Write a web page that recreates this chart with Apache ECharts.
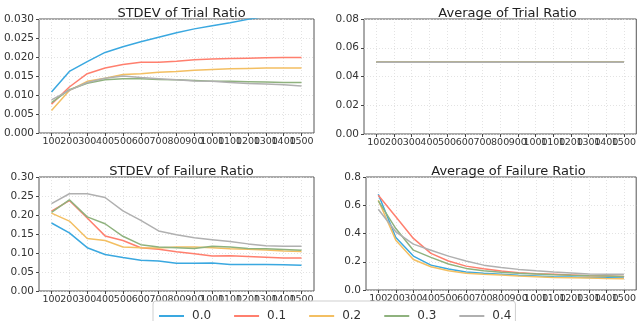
<!DOCTYPE html>
<html>
<head>
<meta charset="utf-8">
<script src="https://cdn.jsdelivr.net/npm/echarts@6/dist/echarts.min.js"></script>
<style>
  html, body { margin: 0; padding: 0; background: #fff; }
  #main { width: 639px; height: 321px; }
</style>
</head>
<body>
<div id="main"></div>
<script>
const sampleSizes = [100, 200, 300, 400, 500, 600, 700, 800, 900, 1000, 1100, 1200, 1300, 1400, 1500];
const groups = ['0.0', '0.1', '0.2', '0.3', '0.4'];
const lineColors = ['#3aa8e0', '#ff7f6e', '#f3bf62', '#8fb27e', '#b0b0b0'];

// STDEV of Trial Ratio
const stdevTrial00 = [0.0108, 0.0162, 0.0188, 0.0212, 0.0227, 0.0240, 0.0252, 0.0264, 0.0274, 0.0282, 0.0290, 0.0299, 0.0307, 0.0314, 0.0320];
const stdevTrial01 = [0.0076, 0.0121, 0.0156, 0.0171, 0.0180, 0.0186, 0.0186, 0.0189, 0.0193, 0.0195, 0.0196, 0.0197, 0.0198, 0.0199, 0.0199];
const stdevTrial02 = [0.0059, 0.0112, 0.0136, 0.0144, 0.0154, 0.0156, 0.0160, 0.0162, 0.0165, 0.0167, 0.0169, 0.0170, 0.0171, 0.0171, 0.0171];
const stdevTrial03 = [0.0080, 0.0114, 0.0131, 0.0140, 0.0143, 0.0143, 0.0141, 0.0140, 0.0138, 0.0136, 0.0136, 0.0135, 0.0134, 0.0133, 0.0133];
const stdevTrial04 = [0.0087, 0.0112, 0.0133, 0.0144, 0.0150, 0.0146, 0.0143, 0.0140, 0.0137, 0.0136, 0.0133, 0.0130, 0.0129, 0.0127, 0.0124];

// Average of Trial Ratio
const avgTrial00 = [0.05, 0.05, 0.05, 0.05, 0.05, 0.05, 0.05, 0.05, 0.05, 0.05, 0.05, 0.05, 0.05, 0.05, 0.05];
const avgTrial01 = [0.05, 0.05, 0.05, 0.05, 0.05, 0.05, 0.05, 0.05, 0.05, 0.05, 0.05, 0.05, 0.05, 0.05, 0.05];
const avgTrial02 = [0.05, 0.05, 0.05, 0.05, 0.05, 0.05, 0.05, 0.05, 0.05, 0.05, 0.05, 0.05, 0.05, 0.05, 0.05];
const avgTrial03 = [0.05, 0.05, 0.05, 0.05, 0.05, 0.05, 0.05, 0.05, 0.05, 0.05, 0.05, 0.05, 0.05, 0.05, 0.05];
const avgTrial04 = [0.05, 0.05, 0.05, 0.05, 0.05, 0.05, 0.05, 0.05, 0.05, 0.05, 0.05, 0.05, 0.05, 0.05, 0.05];

// STDEV of Failure Ratio
const stdevFail00 = [0.179, 0.153, 0.114, 0.096, 0.088, 0.081, 0.079, 0.073, 0.073, 0.074, 0.070, 0.070, 0.070, 0.069, 0.068];
const stdevFail01 = [0.210, 0.238, 0.192, 0.145, 0.133, 0.114, 0.110, 0.103, 0.098, 0.092, 0.093, 0.091, 0.089, 0.087, 0.087];
const stdevFail02 = [0.205, 0.184, 0.138, 0.133, 0.116, 0.114, 0.113, 0.116, 0.116, 0.114, 0.111, 0.110, 0.108, 0.105, 0.104];
const stdevFail03 = [0.207, 0.240, 0.195, 0.177, 0.144, 0.122, 0.116, 0.114, 0.112, 0.118, 0.116, 0.112, 0.111, 0.109, 0.107];
const stdevFail04 = [0.230, 0.256, 0.256, 0.246, 0.211, 0.186, 0.158, 0.148, 0.140, 0.135, 0.130, 0.124, 0.119, 0.118, 0.118];

// Average of Failure Ratio
const avgFail00 = [0.678, 0.372, 0.240, 0.176, 0.148, 0.127, 0.118, 0.111, 0.104, 0.099, 0.094, 0.092, 0.089, 0.087, 0.085];
const avgFail01 = [0.671, 0.518, 0.365, 0.259, 0.205, 0.169, 0.151, 0.134, 0.122, 0.115, 0.111, 0.106, 0.101, 0.099, 0.096];
const avgFail02 = [0.635, 0.353, 0.216, 0.165, 0.136, 0.118, 0.111, 0.106, 0.099, 0.094, 0.089, 0.087, 0.085, 0.082, 0.080];
const avgFail03 = [0.631, 0.435, 0.282, 0.231, 0.184, 0.153, 0.136, 0.125, 0.118, 0.113, 0.108, 0.104, 0.101, 0.099, 0.096];
const avgFail04 = [0.572, 0.412, 0.325, 0.282, 0.240, 0.205, 0.176, 0.160, 0.146, 0.136, 0.127, 0.120, 0.113, 0.111, 0.111];

const panels = [
  {title: 'STDEV of Trial Ratio', grid: {left: 39, top: 19, width: 275, height: 114}, max: 0.03, step: 0.005, digits: 3,
   data: [stdevTrial00, stdevTrial01, stdevTrial02, stdevTrial03, stdevTrial04]},
  {title: 'Average of Trial Ratio', grid: {left: 364, top: 19, width: 277, height: 115}, max: 0.08, step: 0.02, digits: 2,
   data: [avgTrial00, avgTrial01, avgTrial02, avgTrial03, avgTrial04]},
  {title: 'STDEV of Failure Ratio', grid: {left: 39, top: 177, width: 275, height: 114}, max: 0.3, step: 0.05, digits: 2,
   data: [stdevFail00, stdevFail01, stdevFail02, stdevFail03, stdevFail04]},
  {title: 'Average of Failure Ratio', grid: {left: 366, top: 177, width: 275, height: 113}, max: 0.8, step: 0.2, digits: 1,
   data: [avgFail00, avgFail01, avgFail02, avgFail03, avgFail04]}
];

const font = 'DejaVu Sans';
const dotted = {lineStyle: {color: '#dcdcdc', type: [1, 2], width: 0.8}};
// labels overlap like in the source plot, so split them over two stacked axes
const evenLabels = sampleSizes.filter((v, j) => j % 2 === 0);
const oddLabels = sampleSizes.filter((v, j) => j % 2 === 1);

const myChart = echarts.init(document.getElementById('main'), null, {renderer: 'canvas'});

const xLabel = vals => ({
  customValues: vals, showMinLabel: true, showMaxLabel: true, hideOverlap: false,
  fontFamily: font, fontSize: 9.5, color: '#333', margin: 4,
  formatter: v => String(v)
});

const xAxes = [];
panels.forEach((p, i) => {
  xAxes.push({
    type: 'value', gridIndex: i, min: 30, max: 1570, position: 'bottom',
    axisLine: {show: false},
    axisTick: {show: true, customValues: sampleSizes, length: 3, lineStyle: {color: '#444'}},
    axisLabel: xLabel(evenLabels),
    splitLine: Object.assign({show: true}, dotted)
  });
  xAxes.push({
    type: 'value', gridIndex: i, min: 30, max: 1570, position: 'bottom', offset: 0,
    axisLine: {show: false},
    axisTick: {show: false},
    axisLabel: xLabel(oddLabels),
    splitLine: {show: false}
  });
});

const option = {
  animation: false,
  backgroundColor: '#fff',
  title: panels.map(p => ({
    text: p.title,
    left: p.grid.left + p.grid.width / 2,
    top: p.grid.top - 17,
    textAlign: 'center',
    textStyle: {fontFamily: font, fontSize: 13, fontWeight: 'normal', color: '#222'}
  })),
  grid: panels.map(p => Object.assign({show: true, borderColor: '#555', borderWidth: 1, backgroundColor: 'transparent'}, p.grid)),
  xAxis: xAxes,
  yAxis: panels.map((p, i) => ({
    type: 'value', gridIndex: i, min: 0, max: p.max, interval: p.step,
    axisLine: {show: false},
    axisTick: {show: true, length: 3, lineStyle: {color: '#444'}},
    axisLabel: {fontFamily: font, fontSize: 10.5, color: '#333', margin: 5,
      formatter: v => v.toFixed(p.digits)},
    splitLine: Object.assign({show: true}, dotted)
  })),
  legend: {
    data: groups,
    left: 153, top: 301,
    orient: 'horizontal',
    icon: 'rect',
    borderColor: '#cfcfcf', borderWidth: 1, borderRadius: 3,
    backgroundColor: 'rgba(255,255,255,0.8)',
    padding: [9, 4, 9, 6],
    itemWidth: 25, itemHeight: 2, itemGap: 23,
    textStyle: {fontFamily: font, fontSize: 12, color: '#333', padding: [0, 0, 0, 3]}
  },
  series: []
};

panels.forEach((p, i) => {
  p.data.forEach((vals, k) => {
    option.series.push({
      name: groups[k], type: 'line', xAxisIndex: i * 2, yAxisIndex: i,
      symbol: 'none', clip: true,
      data: sampleSizes.map((x, j) => [x, vals[j]]),
      lineStyle: {color: lineColors[k], width: 1.5},
      itemStyle: {color: lineColors[k]}
    });
  });
});

option && myChart.setOption(option);
</script>
</body>
</html>
